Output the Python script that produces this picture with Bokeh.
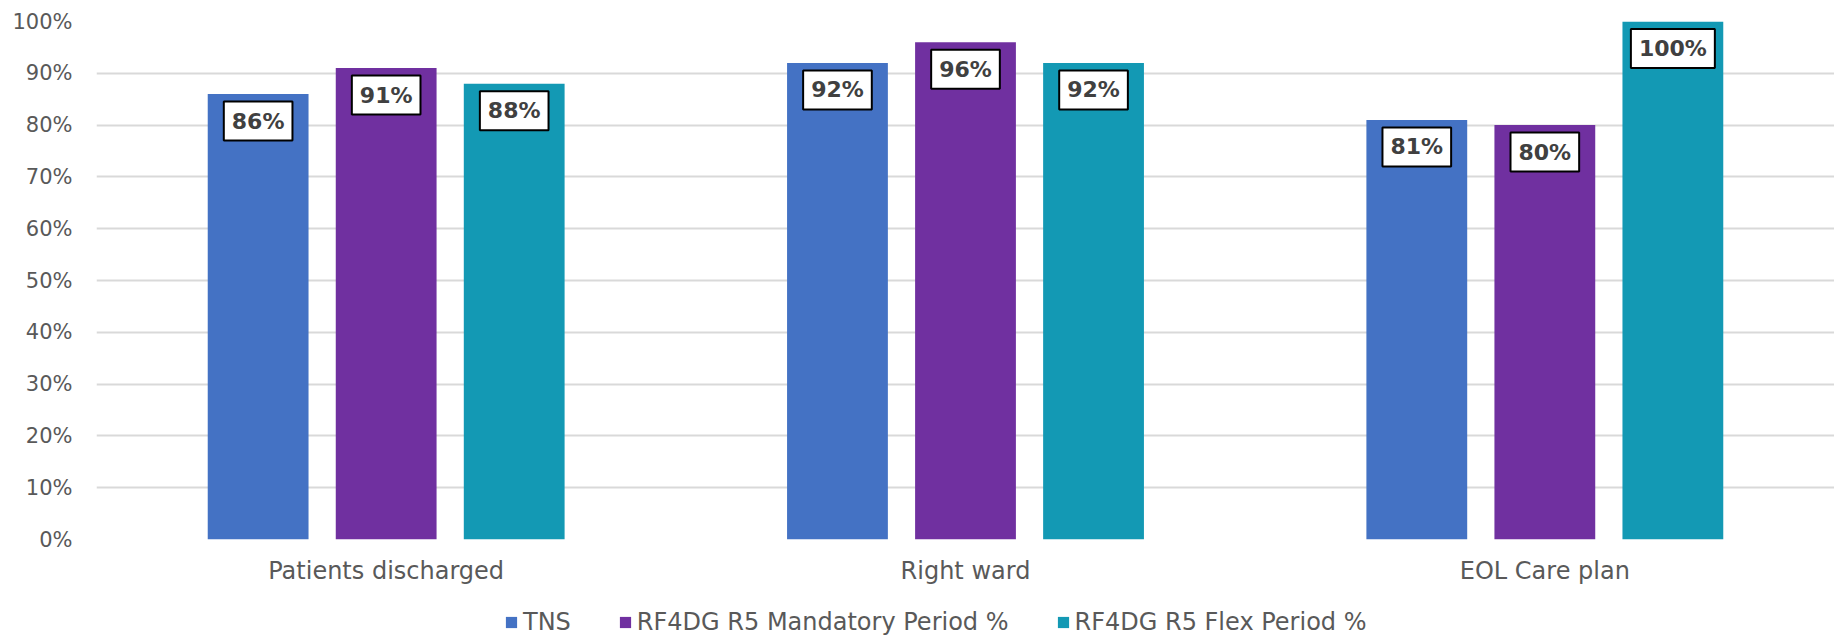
from bokeh.plotting import figure
from bokeh.layouts import column
from bokeh.models import ColumnDataSource, FactorRange, Legend, LegendItem, FixedTicker, CustomJSTickFormatter
from bokeh.core.properties import value
from bokeh.transform import dodge
from bokeh.embed import file_html
from bokeh.resources import INLINE

categories = ["Patients discharged", "Right ward", "EOL Care plan"]
series_names = ["TNS", "RF4DG R5 Mandatory Period %", "RF4DG R5 Flex Period %"]
tns = [86, 92, 81]
mandatory = [91, 96, 80]
flex = [88, 92, 100]
y_ticks = [0, 10, 20, 30, 40, 50, 60, 70, 80, 90, 100]

colors = ["#4472C4", "#7030A0", "#1399B4"]
FONT = "DejaVu Sans"

source = ColumnDataSource(data=dict(
    cat=categories,
    tns=tns, mandatory=mandatory, flex=flex,
    tns_l=[f"{v}%" for v in tns],
    mandatory_l=[f"{v}%" for v in mandatory],
    flex_l=[f"{v}%" for v in flex],
))

p = figure(x_range=FactorRange(factors=categories, range_padding=0), y_range=(0, 100),
           width=1834, height=588, output_backend="svg", toolbar_location=None,
           min_border_left=96, min_border_right=0, min_border_top=21, min_border_bottom=49)
p.outline_line_color = None
p.background_fill_color = "white"

offsets = [-0.221, 0.0, 0.221]
fields = ["tns", "mandatory", "flex"]
for f, off, c in zip(fields, offsets, colors):
    p.vbar(x=dodge("cat", off, range=p.x_range), top=f, width=0.174, source=source,
           fill_color=c, line_color=None)
for f, off in zip(fields, offsets):
    p.text(x=dodge("cat", off, range=p.x_range), y=f, text=f + "_l", source=source,
           y_offset=27, text_align="center", text_baseline="middle",
           text_font=value(FONT), text_font_style="bold", text_font_size="22px",
           text_color="#404040", background_fill_color="white",
           border_line_color="black", border_line_width=2, padding=[8, 7])

p.yaxis.ticker = FixedTicker(ticks=y_ticks)
p.yaxis.formatter = CustomJSTickFormatter(code="return tick + '%';")
p.yaxis.axis_line_color = None
p.yaxis.major_tick_line_color = None
p.yaxis.minor_tick_line_color = None
p.yaxis.major_tick_out = 0
p.yaxis.minor_tick_out = 0
p.yaxis.major_label_text_font = FONT
p.yaxis.major_label_text_font_size = "21px"
p.yaxis.major_label_text_color = "#595959"
p.yaxis.major_label_standoff = 24

p.xaxis.axis_line_color = None
p.xaxis.major_tick_line_color = None
p.xaxis.major_tick_out = 0
p.xaxis.major_label_text_font = FONT
p.xaxis.major_label_text_font_size = "24px"
p.xaxis.major_label_text_color = "#595959"
p.xaxis.major_label_standoff = 17

p.xgrid.grid_line_color = None
p.ygrid.grid_line_color = "#D9D9D9"
p.ygrid.grid_line_width = 2

# legend strip below the chart
lf = figure(x_range=FactorRange(factors=categories), y_range=(1000, 1001),
            width=1834, height=48, output_backend="svg", toolbar_location=None,
            x_axis_location=None, y_axis_location=None,
            min_border_left=96, min_border_right=0, min_border_top=0, min_border_bottom=0)
lf.outline_line_color = None
lf.grid.grid_line_color = None
lrs = []
for f, c in zip(fields, colors):
    lrs.append(lf.vbar(x="cat", top=f, width=0.2, source=source, fill_color=c, line_color=None))

legend = Legend(items=[LegendItem(label=n, renderers=[r]) for n, r in zip(series_names, lrs)],
                orientation="horizontal", location=(408, 0),
                glyph_width=14, glyph_height=14, label_standoff=5, spacing=47,
                padding=0, margin=0, border_line_color=None, background_fill_alpha=0,
                label_text_font=FONT, label_text_font_size="24px", label_text_color="#595959")
lf.add_layout(legend, "center")

open("out.html", "w").write(file_html(column(p, lf), INLINE))
